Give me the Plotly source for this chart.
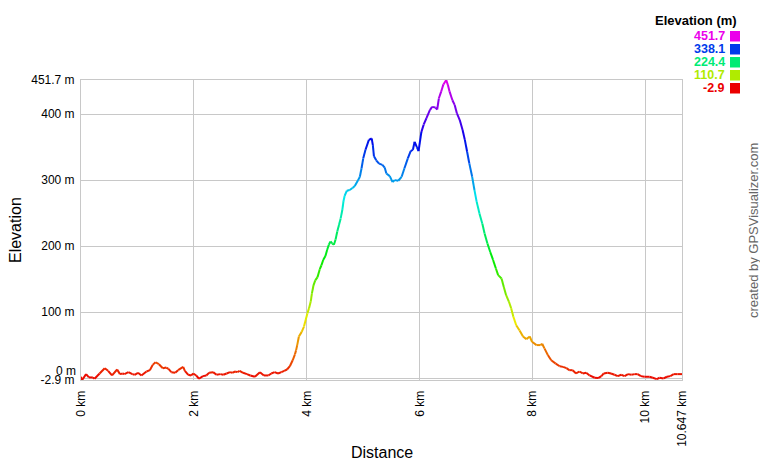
import colorsys
import plotly.graph_objects as go

# ---------------- data ----------------
distance_km = [
    0.00, 0.02, 0.09, 0.14, 0.21, 0.24, 0.33, 0.42, 0.48, 0.55, 0.64, 0.69, 0.74, 0.77,
    0.84, 0.91, 0.95, 1.01, 1.07, 1.16, 1.22, 1.27, 1.32, 1.38, 1.45, 1.51, 1.55, 1.60,
    1.67, 1.72, 1.81, 1.84, 1.90, 1.95, 1.99, 2.04, 2.09, 2.16, 2.22, 2.27, 2.34, 2.40,
    2.47, 2.52, 2.58, 2.64, 2.68, 2.73, 2.77, 2.81, 2.87, 2.94, 3.00, 3.08, 3.17, 3.24,
    3.32, 3.37, 3.43, 3.49, 3.55, 3.60, 3.65, 3.70, 3.75, 3.79, 3.81, 3.83, 3.86, 3.91,
    3.95, 3.98, 4.01, 4.04, 4.07, 4.09, 4.12, 4.15, 4.19, 4.23, 4.26, 4.29, 4.33, 4.36,
    4.39, 4.42, 4.45, 4.48, 4.51, 4.54, 4.57, 4.60, 4.63, 4.65, 4.67, 4.71, 4.76, 4.81,
    4.85, 4.91, 4.94, 4.97, 5.00, 5.04, 5.10, 5.15, 5.17, 5.19, 5.23, 5.28, 5.34, 5.38,
    5.41, 5.47, 5.52, 5.56, 5.62, 5.68, 5.73, 5.79, 5.84, 5.88, 5.91, 5.95, 5.98, 6.03,
    6.07, 6.12, 6.18, 6.22, 6.28, 6.31, 6.34, 6.38, 6.42, 6.47, 6.50, 6.53, 6.58, 6.62,
    6.66, 6.71, 6.76, 6.80, 6.84, 6.88, 6.93, 6.97, 7.01, 7.06, 7.11, 7.15, 7.20, 7.25,
    7.30, 7.35, 7.39, 7.45, 7.49, 7.53, 7.58, 7.62, 7.66, 7.71, 7.77, 7.83, 7.89, 7.95,
    7.99, 8.07, 8.14, 8.17, 8.21, 8.27, 8.33, 8.41, 8.48, 8.54, 8.60, 8.65, 8.71, 8.77,
    8.83, 8.89, 8.95, 9.01, 9.10, 9.16, 9.22, 9.26, 9.33, 9.39, 9.45, 9.51, 9.57, 9.63,
    9.69, 9.75, 9.81, 9.86, 9.92, 9.98, 10.07, 10.13, 10.20, 10.25, 10.32, 10.38, 10.44,
    10.50, 10.57, 10.647,
]
elevation_m = [
    2, -2.9, 6, 1, 1, -1, 7, 15, 11, 4, 13, 6, 7, 6,
    9, 6, 5, 8, 4, 10, 12, 20, 24, 21, 15, 16, 14, 9,
    8, 12, 17, 11, 5, 4, 7, 4, -1, 3, 4, 8, 9, 5,
    6, 5, 7, 9, 8, 10, 9, 11, 8, 6, 4, 2, 9, 4,
    4, 7, 9, 7, 9, 11, 13, 18, 27, 36, 42, 50, 63, 70,
    78, 88, 98, 106, 116, 128, 141, 148, 153, 165, 171, 179, 185, 194,
    202, 207, 204, 202, 210, 222, 232, 242, 255, 268, 276, 284, 285, 288,
    291, 300, 305, 318, 333, 346, 361, 363, 353, 336, 330, 325, 323, 319,
    310, 306, 297, 300, 299, 305, 318, 333, 344, 346, 358, 350, 344, 373,
    384, 394, 406, 411, 410, 407, 424, 434, 445, 451.7, 444, 434, 421, 414,
    401, 391, 376, 361, 343, 325, 305, 285, 267, 249, 234, 219, 204, 191,
    179, 166, 156, 151, 138, 126, 116, 106, 93, 80, 72, 63, 59, 63,
    55, 50, 50, 52, 45, 35, 27, 22, 18, 17, 15, 12, 12, 7,
    10, 7, 8, 4, 0.5, 0, 3, 7, 8, 7, 5, 3, 5, 3,
    6, 5, 6, 6, 3, 2, 2, 0.5, -1.5, 0.5, -0.5, 2, 3,
    6, 6, 6,
]

legend_values = [451.7, 338.1, 224.4, 110.7, -2.9]
x_tick_vals = [0, 2, 4, 6, 8, 10, 10.647]
x_tick_text = ["0 km", "2 km", "4 km", "6 km", "8 km", "10 km", "10.647 km"]
y_tick_vals = [-2.9, 0, 100, 200, 300, 400, 451.7]
y_tick_text = ["-2.9 m", "", "100 m", "200 m", "300 m", "400 m", "451.7 m"]

EMIN, EMAX = -2.9, 451.7
FONT = "Liberation Sans, Arial, Helvetica, sans-serif"
GRID = "#c8c8c8"


def color_for(e):
    f = (e - EMIN) / (EMAX - EMIN)
    f = min(max(f, 0.0), 1.0)
    r, g, b = colorsys.hsv_to_rgb(f * 300.0 / 360.0, 1.0, 0.92)
    return "rgb(%d,%d,%d)" % (round(r * 255), round(g * 255), round(b * 255))


# group segments into colour bins
NB = 100
bins = {}
for i in range(len(distance_km) - 1):
    avg = (elevation_m[i] + elevation_m[i + 1]) / 2.0
    k = int(round((avg - EMIN) / (EMAX - EMIN) * NB))
    xs, ys = bins.setdefault(k, ([], []))
    xs += [distance_km[i], distance_km[i + 1], None]
    ys += [elevation_m[i], elevation_m[i + 1], None]

fig = go.Figure()
for k in sorted(bins):
    xs, ys = bins[k]
    fig.add_trace(go.Scatter(
        x=xs, y=ys, mode="lines",
        line=dict(color=color_for(EMIN + k / NB * (EMAX - EMIN)), width=2),
        hoverinfo="skip", showlegend=False,
    ))

L, R, T, B = 81, 78, 80, 80
W, H = 760, 460
PW, PH = W - L - R, H - T - B


def px(xp):
    return (xp - L) / PW


def py(yp):
    return (H - B - yp) / PH


annotations = [
    # "0 m" label slightly above its gridline
    dict(x=0, y=0, xref="paper", yref="y", text="0 m", showarrow=False,
         xanchor="right", yanchor="middle", xshift=-4, yshift=7, borderpad=0,
         font=dict(family=FONT, size=12, color="#000")),
    # axis titles
    dict(x=px(15), y=0.5, xref="paper", yref="paper", text="Elevation", showarrow=False,
         textangle=-90, xanchor="center", yanchor="middle",
         font=dict(family=FONT, size=16, color="#000")),
    dict(x=0.5, y=py(452), xref="paper", yref="paper", text="Distance", showarrow=False,
         xanchor="center", yanchor="middle",
         font=dict(family=FONT, size=16, color="#000")),
    # legend title
    dict(x=px(738), y=py(21), xref="paper", yref="paper", text="<b>Elevation (m)</b>",
         showarrow=False, xanchor="right", yanchor="middle", borderpad=0,
         font=dict(family=FONT, size=13, color="#000")),
    # credit
    dict(x=px(753), y=0.5, xref="paper", yref="paper", text="created by GPSVisualizer.com",
         showarrow=False, textangle=-90, xanchor="center", yanchor="middle", borderpad=0,
         font=dict(family=FONT, size=13, color="#666")),
]
shapes = []
row_y = [36, 49, 62, 75, 88]
for v, yy in zip(legend_values, row_y):
    c = color_for(v)
    annotations.append(dict(
        x=px(726), y=py(yy), xref="paper", yref="paper", text="<b>%s</b>" % v,
        showarrow=False, xanchor="right", yanchor="middle", borderpad=0,
        font=dict(family=FONT, size=12.5, color=c)))
    shapes.append(dict(type="rect", xref="paper", yref="paper",
                       x0=px(730), x1=px(740), y0=py(yy + 5.5), y1=py(yy - 5),
                       fillcolor=c, line=dict(width=0)))

fig.update_layout(
    width=W, height=H,
    margin=dict(l=L, r=R, t=T, b=B, autoexpand=False),
    paper_bgcolor="white", plot_bgcolor="white",
    font=dict(family=FONT, size=12, color="#000"),
    annotations=annotations, shapes=shapes,
    xaxis=dict(
        range=[0, 10.647], tickvals=x_tick_vals, ticktext=x_tick_text,
        tickangle=-90, showgrid=True, gridcolor=GRID, gridwidth=1,
        showline=True, linecolor=GRID, linewidth=1, mirror=True, automargin=False,
        zeroline=False, ticks="outside", ticklen=5, tickcolor="rgba(0,0,0,0)",
        tickfont=dict(family=FONT, size=12, color="#000"),
    ),
    yaxis=dict(
        range=[-2.9, 451.7], tickvals=y_tick_vals, ticktext=y_tick_text,
        showgrid=True, gridcolor=GRID, gridwidth=1,
        showline=True, linecolor=GRID, linewidth=1, mirror=True, automargin=False,
        zeroline=False, ticks="outside", ticklen=3, tickcolor="rgba(0,0,0,0)",
        tickfont=dict(family=FONT, size=12, color="#000"),
    ),
)

fig.write_html(
    "out.html",
    config={"displayModeBar": False, "staticPlot": True},
    post_script="document.body.style.margin='0';document.body.style.padding='0';",
)
